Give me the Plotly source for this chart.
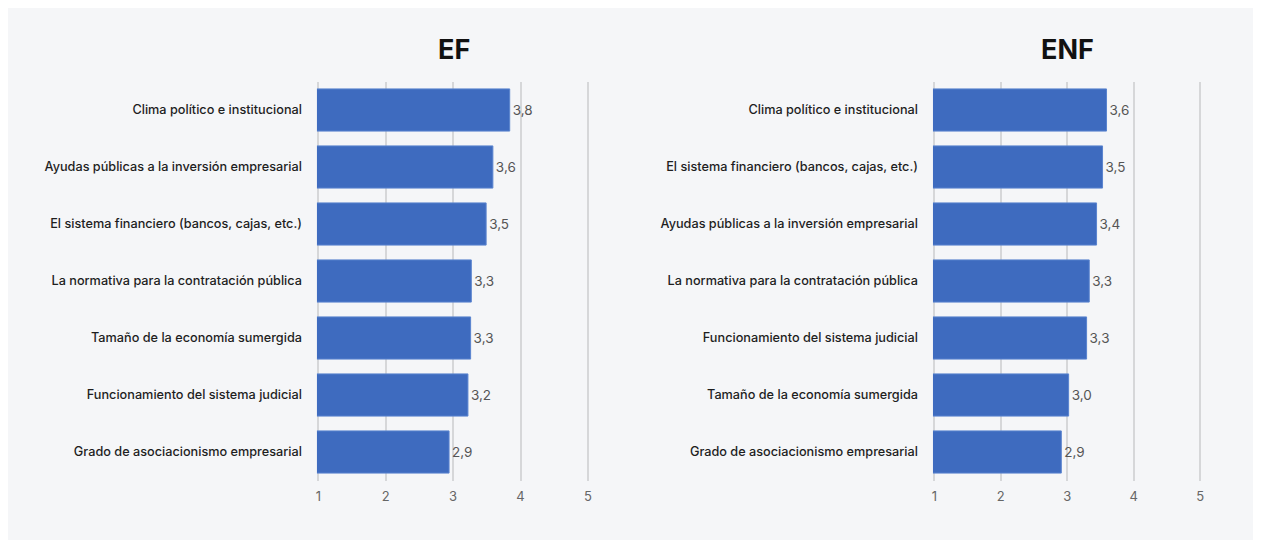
import plotly.graph_objects as go

# The page body adds an 8px margin; work in page pixels and convert.
OFF_X, OFF_Y = 8, 8
W, H = 1261 - OFF_X, 544 - OFF_Y

ef_categories = [
    "Clima político e institucional",
    "Ayudas públicas a la inversión empresarial",
    "El sistema financiero (bancos, cajas, etc.)",
    "La normativa para la contratación pública",
    "Tamaño de la economía sumergida",
    "Funcionamiento del sistema judicial",
    "Grado de asociacionismo empresarial",
]
ef_values = [3.84, 3.59, 3.49, 3.27, 3.26, 3.22, 2.94]

enf_categories = [
    "Clima político e institucional",
    "El sistema financiero (bancos, cajas, etc.)",
    "Ayudas públicas a la inversión empresarial",
    "La normativa para la contratación pública",
    "Funcionamiento del sistema judicial",
    "Tamaño de la economía sumergida",
    "Grado de asociacionismo empresarial",
]
enf_values = [3.59, 3.53, 3.44, 3.33, 3.29, 3.02, 2.91]

x_ticks = [1, 2, 3, 4, 5]
titles = ["EF", "ENF"]

BAR = "#3e6bbf"
FONT = "Inter"

fig = go.Figure()

for vals, cats, xa, ya in [(ef_values, ef_categories, "x", "y"),
                           (enf_values, enf_categories, "x2", "y2")]:
    fig.add_trace(go.Bar(
        x=vals, y=cats, orientation="h",
        xaxis=xa, yaxis=ya,
        marker=dict(color=BAR, line=dict(color="#5a84cf", width=1)),
        texttemplate="%{x:.1f}", textposition="outside",
        textfont=dict(color="#555555", size=13.5, family=FONT),
        cliponaxis=False, showlegend=False,
    ))

def px_x(p):
    return (p - OFF_X) / W

def px_y(p):
    return (H - (p - OFF_Y)) / H

x1_left = 318.3 - 0.02 * 67.4
x1_right = 318.3 + 4.1 * 67.4
x2_left = 934.3 - 0.02 * 66.5
x2_right = 934.3 + 4.1 * 66.5
y_dom = [px_y(480.5), px_y(81.5)]

xcommon = dict(
    range=[0.98, 5.1], tickvals=x_ticks, showgrid=True,
    gridcolor="#d6d7d9", gridwidth=1.6, zeroline=False, showline=False,
    tickfont=dict(color="#666666", size=13, family=FONT),
    ticks="", ticklabelstandoff=6, automargin=False, fixedrange=True,
)
ycommon = dict(
    autorange="reversed", showgrid=False, zeroline=False, showline=False,
    tickfont=dict(color="#1e1e1e", size=12.7, family=FONT, weight=500),
    ticks="", ticklabelstandoff=14, automargin=False, domain=y_dom,
)

fig.update_layout(
    width=W, height=H,
    margin=dict(l=0, r=0, t=0, b=0),
    paper_bgcolor="white", plot_bgcolor="rgba(0,0,0,0)",
    separators=",.",
    bargap=0.26,
    xaxis=dict(domain=[px_x(x1_left), px_x(x1_right)], anchor="y", **xcommon),
    yaxis=dict(anchor="x", **ycommon),
    xaxis2=dict(domain=[px_x(x2_left), px_x(x2_right)], anchor="y2", **xcommon),
    yaxis2=dict(anchor="x2", **ycommon),
    shapes=[dict(type="rect", xref="paper", yref="paper",
                 x0=0, x1=px_x(1255), y0=px_y(540), y1=1,
                 fillcolor="#f5f6f8", line=dict(width=0), layer="below")],
    annotations=[
        dict(text="<b>%s</b>" % titles[0], x=px_x(454), y=px_y(50), xref="paper", yref="paper",
             showarrow=False, xanchor="center", yanchor="middle",
             font=dict(size=27, color="#111111", family=FONT)),
        dict(text="<b>%s</b>" % titles[1], x=px_x(1067), y=px_y(50), xref="paper", yref="paper",
             showarrow=False, xanchor="center", yanchor="middle",
             font=dict(size=27, color="#111111", family=FONT)),
    ],
)

fig.write_html("out.html")
